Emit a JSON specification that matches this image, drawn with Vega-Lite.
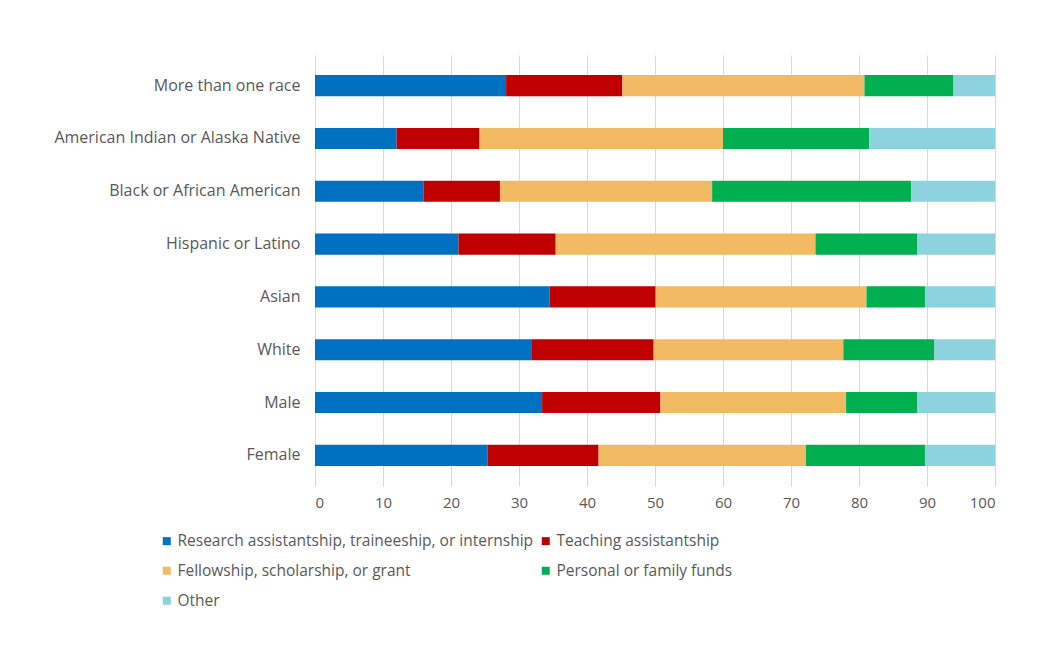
{
  "$schema": "https://vega.github.io/schema/vega-lite/v6.json",
  "autosize": {"type": "none"},
  "width": 680,
  "height": 431,
  "padding": {"left": 315, "top": 55, "right": 63, "bottom": 167},
  "background": "white",
  "config": {
    "view": {"stroke": null},
    "font": "Open Sans"
  },
  "data": {
    "values": [
      {"group": "More than one race", "source": "Research assistantship, traineeship, or internship", "k": 1, "pct": 28.1},
      {"group": "More than one race", "source": "Teaching assistantship", "k": 2, "pct": 17.1},
      {"group": "More than one race", "source": "Fellowship, scholarship, or grant", "k": 3, "pct": 35.6},
      {"group": "More than one race", "source": "Personal or family funds", "k": 4, "pct": 13.1},
      {"group": "More than one race", "source": "Other", "k": 5, "pct": 6.1},
      {"group": "American Indian or Alaska Native", "source": "Research assistantship, traineeship, or internship", "k": 1, "pct": 12.0},
      {"group": "American Indian or Alaska Native", "source": "Teaching assistantship", "k": 2, "pct": 12.2},
      {"group": "American Indian or Alaska Native", "source": "Fellowship, scholarship, or grant", "k": 3, "pct": 35.8},
      {"group": "American Indian or Alaska Native", "source": "Personal or family funds", "k": 4, "pct": 21.5},
      {"group": "American Indian or Alaska Native", "source": "Other", "k": 5, "pct": 18.5},
      {"group": "Black or African American", "source": "Research assistantship, traineeship, or internship", "k": 1, "pct": 16.0},
      {"group": "Black or African American", "source": "Teaching assistantship", "k": 2, "pct": 11.2},
      {"group": "Black or African American", "source": "Fellowship, scholarship, or grant", "k": 3, "pct": 31.2},
      {"group": "Black or African American", "source": "Personal or family funds", "k": 4, "pct": 29.3},
      {"group": "Black or African American", "source": "Other", "k": 5, "pct": 12.3},
      {"group": "Hispanic or Latino", "source": "Research assistantship, traineeship, or internship", "k": 1, "pct": 21.1},
      {"group": "Hispanic or Latino", "source": "Teaching assistantship", "k": 2, "pct": 14.3},
      {"group": "Hispanic or Latino", "source": "Fellowship, scholarship, or grant", "k": 3, "pct": 38.2},
      {"group": "Hispanic or Latino", "source": "Personal or family funds", "k": 4, "pct": 15.0},
      {"group": "Hispanic or Latino", "source": "Other", "k": 5, "pct": 11.4},
      {"group": "Asian", "source": "Research assistantship, traineeship, or internship", "k": 1, "pct": 34.5},
      {"group": "Asian", "source": "Teaching assistantship", "k": 2, "pct": 15.6},
      {"group": "Asian", "source": "Fellowship, scholarship, or grant", "k": 3, "pct": 31.0},
      {"group": "Asian", "source": "Personal or family funds", "k": 4, "pct": 8.6},
      {"group": "Asian", "source": "Other", "k": 5, "pct": 10.3},
      {"group": "White", "source": "Research assistantship, traineeship, or internship", "k": 1, "pct": 31.8},
      {"group": "White", "source": "Teaching assistantship", "k": 2, "pct": 18.0},
      {"group": "White", "source": "Fellowship, scholarship, or grant", "k": 3, "pct": 27.9},
      {"group": "White", "source": "Personal or family funds", "k": 4, "pct": 13.4},
      {"group": "White", "source": "Other", "k": 5, "pct": 8.9},
      {"group": "Male", "source": "Research assistantship, traineeship, or internship", "k": 1, "pct": 33.4},
      {"group": "Male", "source": "Teaching assistantship", "k": 2, "pct": 17.4},
      {"group": "Male", "source": "Fellowship, scholarship, or grant", "k": 3, "pct": 27.3},
      {"group": "Male", "source": "Personal or family funds", "k": 4, "pct": 10.5},
      {"group": "Male", "source": "Other", "k": 5, "pct": 11.4},
      {"group": "Female", "source": "Research assistantship, traineeship, or internship", "k": 1, "pct": 25.4},
      {"group": "Female", "source": "Teaching assistantship", "k": 2, "pct": 16.3},
      {"group": "Female", "source": "Fellowship, scholarship, or grant", "k": 3, "pct": 30.5},
      {"group": "Female", "source": "Personal or family funds", "k": 4, "pct": 17.5},
      {"group": "Female", "source": "Other", "k": 5, "pct": 10.3}
    ]
  },
  "mark": {"type": "bar"},
  "encoding": {
    "y": {
      "field": "group",
      "type": "nominal",
      "sort": ["More than one race", "American Indian or Alaska Native", "Black or African American", "Hispanic or Latino", "Asian", "White", "Male", "Female"],
      "scale": {"paddingInner": 0.6, "paddingOuter": 0.38},
      "axis": {
        "title": null,
        "ticks": false,
        "domain": false,
        "labelFontSize": 16,
        "labelColor": "#595959",
        "labelPadding": 15,
        "labelLimit": 0
      }
    },
    "x": {
      "field": "pct",
      "type": "quantitative",
      "stack": "zero",
      "scale": {"domain": [0, 100], "nice": false},
      "axis": {
        "title": null,
        "values": [0, 10, 20, 30, 40, 50, 60, 70, 80, 90, 100],
        "grid": true,
        "gridColor": "#d9d9d9",
        "domain": false,
        "ticks": false,
        "labelFontSize": 15,
        "labelColor": "#595959",
        "labelPadding": 9
      }
    },
    "order": {"field": "k", "type": "quantitative", "sort": "ascending"},
    "color": {
      "field": "source",
      "type": "nominal",
      "sort": ["Research assistantship, traineeship, or internship", "Teaching assistantship", "Fellowship, scholarship, or grant", "Personal or family funds", "Other"],
      "scale": {
        "domain": ["Research assistantship, traineeship, or internship", "Teaching assistantship", "Fellowship, scholarship, or grant", "Personal or family funds", "Other"],
        "range": ["#0070C0", "#C00000", "#F2BA63", "#00B050", "#8DD3DF"]
      },
      "legend": {
        "title": null,
        "orient": "none",
        "legendX": -156,
        "legendY": 478,
        "direction": "horizontal",
        "columns": 2,
        "symbolType": "square",
        "symbolSize": 64,
        "symbolStrokeWidth": 0,
        "labelFontSize": 15.5,
        "labelColor": "#595959",
        "labelOffset": 3,
        "rowPadding": 13,
        "columnPadding": 4,
        "labelLimit": 500
      }
    }
  }
}
